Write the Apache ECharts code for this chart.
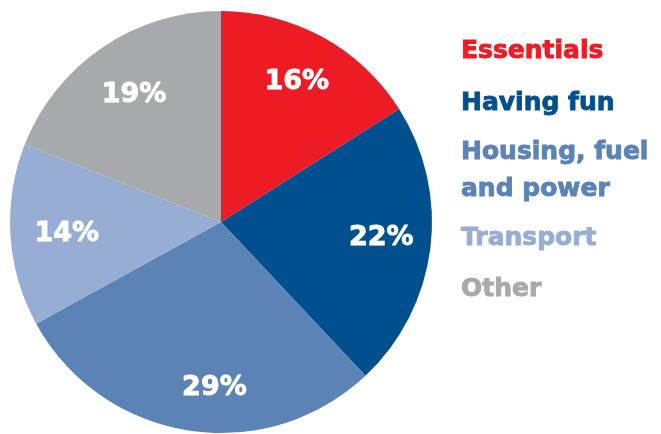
<!DOCTYPE html>
<html>
<head>
<meta charset="utf-8">
<script src="https://cdn.jsdelivr.net/npm/echarts@6/dist/echarts.min.js"></script>
<style>
  html, body { margin: 0; padding: 0; background: #fff; }
  #chart { width: 661px; height: 434px; }
</style>
</head>
<body>
<div id="chart"></div>
<script>
// Spending shares, clockwise from 12 o'clock
const categories = ['Essentials', 'Having fun', 'Housing, fuel\nand power', 'Transport', 'Other'];
const shares = [16, 22, 29, 14, 19];
const colors = ['#ED1C24', '#00508F', '#5B83B5', '#97ADD3', '#A7A9AC'];

const FONT = '"DejaVu Sans", sans-serif';
const center = [221, 222];
const radius = 211;

const pieData = categories.map((name, i) => ({
  name, value: shares[i], itemStyle: { color: colors[i] }
}));

// small nudges of the percentage labels away from the exact wedge centroid
const labelNudge = [[-3, 3], [-2, -5], [19, 4], [9, 2], [5, 8]];

// Each legend entry is placed on its own so the spacing can be set per row
const legendTops = [31, 83, 129, 218, 269];
const legends = categories.map((name, i) => ({
  orient: 'vertical',
  left: 451,
  top: legendTops[i],
  itemWidth: 0,
  itemHeight: 0,
  selectedMode: false,
  data: [{ name, icon: 'none' }],
  textStyle: {
    color: colors[i],
    fontFamily: FONT,
    fontWeight: 'bold',
    fontSize: 25,
    // a thin outline in the same colour makes the type a little heavier
    textBorderColor: colors[i],
    textBorderWidth: 0.9,
    lineHeight: name.includes('\n') ? 37 : 30
  }
}));

const chart = echarts.init(document.getElementById('chart'), null, { renderer: 'canvas' });
chart.setOption({
  animation: false,
  legend: legends,
  series: [
    {
      // filled wedges
      type: 'pie',
      center, radius: [0, radius],
      startAngle: 90, clockwise: true,
      silent: true,
      label: { show: false }, labelLine: { show: false },
      data: pieData
    },
    {
      // transparent ring that carries the percentage labels further out than the middle
      type: 'pie',
      center, radius: [110, radius],
      startAngle: 90, clockwise: true,
      silent: true,
      legendHoverLink: false,
      itemStyle: { color: 'rgba(0,0,0,0)' },
      label: {
        show: true, position: 'inside',
        formatter: p => p.value + '%',
        color: '#fff', fontFamily: FONT, fontWeight: 'bold', fontSize: 27,
        textBorderColor: '#fff', textBorderWidth: 0.9
      },
      labelLine: { show: false },
      data: categories.map((name, i) => ({
        name: name + ' ', value: shares[i],
        label: { offset: labelNudge[i] }
      }))
    }
  ]
});
</script>
</body>
</html>
